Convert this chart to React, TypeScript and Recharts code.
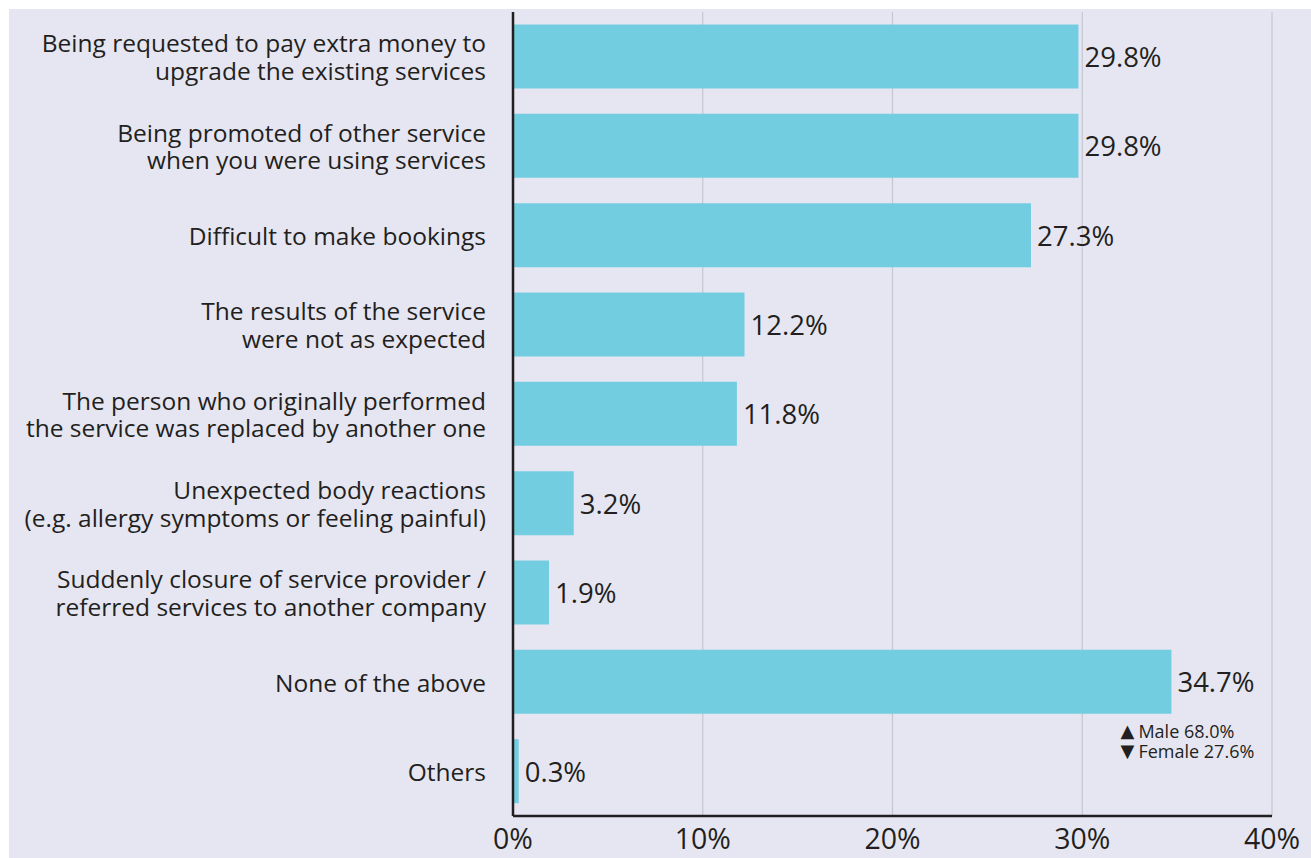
import React from 'react';
import { BarChart, Bar, XAxis, YAxis, CartesianGrid, LabelList } from 'recharts';

const categories: string[] = [
  'Being requested to pay extra money to\nupgrade the existing services',
  'Being promoted of other service\nwhen you were using services',
  'Difficult to make bookings',
  'The results of the service\nwere not as expected',
  'The person who originally performed\nthe service was replaced by another one',
  'Unexpected body reactions\n(e.g. allergy symptoms or feeling painful)',
  'Suddenly closure of service provider /\nreferred services to another company',
  'None of the above',
  'Others',
];
const values: number[] = [29.8, 29.8, 27.3, 12.2, 11.8, 3.2, 1.9, 34.7, 0.3];
const noteMarks: string[][] = [[], [], [], [], [], [], [], ['▲', '▼'], []];
const noteTexts: string[][] = [[], [], [], [], [], [], [], ['Male 68.0%', 'Female 27.6%'], []];
const xTicks: number[] = [0, 10, 20, 30, 40];

const data = categories.map((c, i) => ({ name: c, value: values[i] }));

const FONT = '"Open Sans", "Noto Sans", sans-serif';
const TEXT = '#231f20';
const BG = '#e6e6f2';
const BAR = '#72cde0';

const YTick = (props: any) => {
  const { x, y, payload } = props;
  const lines = String(payload.value).split('\n');
  const lh = 27.5;
  const start = y - ((lines.length - 1) * lh) / 2;
  return (
    <text x={x - 27} textAnchor="end" fontFamily={FONT} fontSize={24.5} fill={TEXT}>
      {lines.map((l, i) => (
        <tspan key={i} x={x - 27} y={start + i * lh} dominantBaseline="central">
          {l}
        </tspan>
      ))}
    </text>
  );
};

const XTick = (props: any) => {
  const { x, y, payload } = props;
  return (
    <text x={x} y={y + 22} textAnchor="middle" dominantBaseline="central" fontFamily={FONT} fontSize={28.5} fill={TEXT}>
      {payload.value + '%'}
    </text>
  );
};

const ValueLabel = (props: any) => {
  const { x, y, width, height, value, index } = props;
  const marks = noteMarks[index] || [];
  const texts = noteTexts[index] || [];
  const ex = x + width;
  return (
    <g>
      <text x={ex + 6} y={y + height / 2} dominantBaseline="central" fontFamily={FONT} fontSize={27.5} fill={TEXT}>
        {value.toFixed(1) + '%'}
      </text>
      {texts.map((n, i) => (
        <g key={i}>
          <text x={ex - 51} y={y + height + 17 + i * 20} dominantBaseline="central" fontFamily='"DejaVu Sans", sans-serif' fontSize={18} fill={TEXT}>
            {marks[i]}
          </text>
          <text x={ex - 33} y={y + height + 17 + i * 20} dominantBaseline="central" fontFamily={FONT} fontSize={18} fill={TEXT}>
            {n}
          </text>
        </g>
      ))}
    </g>
  );
};

export default function App() {
  return (
    <div style={{ position: 'fixed', left: 9, top: 9, right: 0, bottom: 0, background: BG, overflow: 'hidden' }}>
      <BarChart
        width={1302}
        height={849}
        data={data}
        layout="vertical"
        margin={{ top: 3, right: 39, bottom: 12, left: 0 }}
        barCategoryGap="14%"
      >
        <CartesianGrid horizontal={false} stroke="#c6c6d0" strokeWidth={1.2} />
        <XAxis
          type="number"
          domain={[0, 40]}
          ticks={xTicks}
          interval={0}
          height={30}
          tickLine={false}
          tickSize={0}
          tickMargin={0}
          axisLine={{ stroke: TEXT, strokeWidth: 2.5 }}
          tick={<XTick />}
        />
        <YAxis
          type="category"
          dataKey="name"
          width={504}
          interval={0}
          tickLine={false}
          tickSize={0}
          tickMargin={0}
          axisLine={{ stroke: TEXT, strokeWidth: 2.5 }}
          tick={<YTick />}
        />
        <Bar dataKey="value" fill={BAR} isAnimationActive={false}>
          <LabelList dataKey="value" content={<ValueLabel />} />
        </Bar>
      </BarChart>
    </div>
  );
}
